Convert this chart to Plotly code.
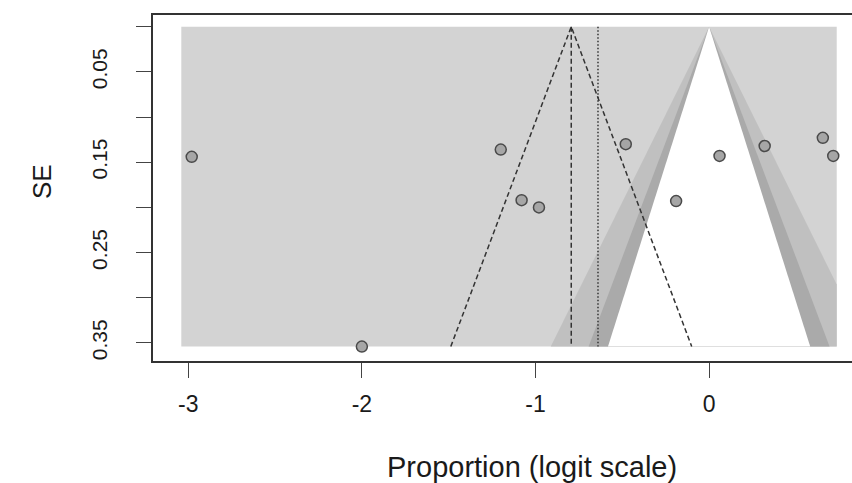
import plotly.graph_objects as go

# ---- data ----
te = [-2.98, -2.00, -1.20, -1.08, -0.98, -0.48, -0.19, 0.06, 0.32, 0.655, 0.715]
se = [0.144, 0.354, 0.136, 0.192, 0.200, 0.130, 0.193, 0.143, 0.132, 0.123, 0.143]
te_common = -0.794
te_random = -0.640
contour_levels = [0.90, 0.95, 0.99]
contour_z = [1.645, 1.960, 2.576]
contour_colors = ["#ffffff", "#aaaaaa", "#c0c0c0"]
outer_color = "#d3d3d3"
contour_xrange = [-3.04, 0.735]
x_ticks = [-3, -2, -1, 0]
y_ticks = [0.0, 0.05, 0.10, 0.15, 0.20, 0.25, 0.30, 0.35]
y_ticktext = ["", "0.05", "", "0.15", "", "0.25", "", "0.35"]

smax = max(se)
xl, xr = contour_xrange

fig = go.Figure()

# outer (p < 0.01) background rectangle
fig.add_trace(go.Scatter(x=[xl, xr, xr, xl, xl], y=[0, 0, smax, smax, 0],
                         mode="lines", fill="toself", fillcolor=outer_color,
                         line=dict(width=0), hoverinfo="skip", showlegend=False))


def tri(z):
    xs, ys = [0.0], [0.0]
    left = -z * smax
    right = z * smax
    if left < xl:
        xs += [xl, xl]
        ys += [-xl / z, smax]
    else:
        xs.append(left)
        ys.append(smax)
    if right > xr:
        xs += [xr, xr]
        ys += [smax, xr / z]
    else:
        xs.append(right)
        ys.append(smax)
    xs.append(0.0)
    ys.append(0.0)
    return xs, ys


for z, col in sorted(zip(contour_z, contour_colors), reverse=True):
    xs, ys = tri(z)
    fig.add_trace(go.Scatter(x=xs, y=ys, mode="lines", fill="toself", fillcolor=col,
                             line=dict(width=0), hoverinfo="skip", showlegend=False))

# funnel lines for common effect
z95 = 1.960
fig.add_trace(go.Scatter(x=[te_common - z95 * smax, te_common, te_common + z95 * smax],
                         y=[smax, 0, smax], mode="lines",
                         line=dict(color="#333333", width=1.5, dash="5px,3px"),
                         hoverinfo="skip", showlegend=False))
fig.add_trace(go.Scatter(x=[te_common, te_common], y=[0, smax], mode="lines",
                         line=dict(color="#333333", width=1.5, dash="5px,3px"),
                         hoverinfo="skip", showlegend=False))
fig.add_trace(go.Scatter(x=[te_random, te_random], y=[0, smax], mode="lines",
                         line=dict(color="#333333", width=1.5, dash="1.5px,2px"),
                         hoverinfo="skip", showlegend=False))

# study points
fig.add_trace(go.Scatter(x=te, y=se, mode="markers",
                         marker=dict(symbol="circle", size=11, color="#a6a6a6",
                                     line=dict(color="#4a4a4a", width=1.5)),
                         showlegend=False, cliponaxis=False))

font_family = "Liberation Sans, Arial, sans-serif"

fig.update_layout(
    width=852, height=483,
    margin=dict(l=153, r=0, t=15, b=122),
    paper_bgcolor="white", plot_bgcolor="white",
    font=dict(family=font_family, color="#1a1a1a"),
    xaxis=dict(range=[-3.203, 0.823], tickvals=x_ticks, ticktext=[str(v) for v in x_ticks],
               ticks="outside", ticklen=15, tickwidth=1.4, tickcolor="#444444",
               showgrid=False, zeroline=False, showline=True, mirror=True,
               linecolor="#333333", linewidth=1.5, automargin=False,
               tickfont=dict(size=23, family=font_family, color="#1a1a1a"),
               ticklabelstandoff=7),
    yaxis=dict(range=[0.370, -0.013], tickvals=y_ticks, ticktext=y_ticktext,
               ticks="outside", ticklen=15, tickwidth=1.4, tickcolor="#444444",
               showgrid=False, zeroline=False, showline=True, mirror=False,
               linecolor="#333333", linewidth=1.5, tickangle=-90, automargin=False,
               tickfont=dict(size=21, family=font_family, color="#1a1a1a"),
               ticklabelstandoff=21),
    annotations=[
        dict(text="Proportion (logit scale)", xref="paper", yref="paper",
             x=(532 - 153) / 699, y=(361 - 467) / 346, showarrow=False,
             xanchor="center", yanchor="middle",
             font=dict(size=29, family=font_family, color="#1a1a1a")),
        dict(text="SE", xref="paper", yref="paper",
             x=(42 - 153) / 699, y=(361 - 182) / 346, showarrow=False,
             xanchor="center", yanchor="middle", textangle=-90,
             font=dict(size=26, family=font_family, color="#1a1a1a")),
    ],
)

fig.write_html("out.html", config={"displayModeBar": False},
               post_script="document.body.style.margin='0';document.body.style.overflow='hidden';")
